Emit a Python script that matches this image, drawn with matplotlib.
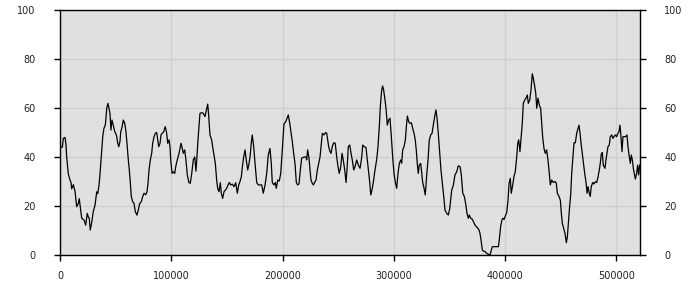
import matplotlib
matplotlib.use("Agg")
import matplotlib.pyplot as plt
import numpy as np

# positions in thousands
pos_a = [0, 2.1, 3.0, 4.5, 5.4, 6.0, 7.5, 9.0, 9.9, 10.5,
         12.0, 13.5, 15.0, 16.4, 17.3, 18.6, 19.5, 21.6, 23.1, 24.5,
         25.4, 26.3, 27.2, 28.5, 29.9, 31.5, 33.0, 33.9, 35.1, 36.0,
         36.9, 37.7, 38.4, 39.5, 40.7, 41.3, 42.0, 43.1, 44.0, 44.9,
         45.8, 46.7, 47.9, 49.2, 50.1, 51.0, 51.9, 52.8, 53.9, 54.6,
         55.7, 56.9, 58.2, 59.3, 60.2, 61.4, 62.3, 63.2, 64.1, 65.3,
         66.5, 67.7, 69.2, 70.4, 71.6, 73.1, 74.3, 75.5, 77.0, 78.2,
         79.1, 80.0, 81.2, 82.4, 83.3, 84.5, 85.7, 86.9, 87.8, 88.7,
         89.9, 90.8, 91.9, 93.2, 94.6, 95.9, 96.8, 98.0, 98.9, 99.5,
         100.7, 101.8, 103.1, 104.3, 105.4, 107.0]
val_a = [44, 44, 47.6, 48, 45, 40, 33, 30.6, 29.6, 27,
         28.7, 26, 19.7, 21, 23, 18.4, 15, 14.3, 12.2, 17,
         15.6, 15, 10.2, 13.2, 17.7, 20.4, 25.8, 25, 28.6, 33.3,
         38.8, 43.5, 48.3, 51.7, 53, 55.8, 59.9, 61.9, 59.9, 57.8,
         51, 55.1, 53, 50.3, 49.6, 48.3, 45.6, 44.2, 46.3, 50.3,
         52, 55.1, 53.7, 50.3, 45.6, 38.8, 34.7, 29.6, 23.8, 21.8,
         21.1, 17.7, 16.3, 18.4, 21, 21.8, 23.8, 25.2, 24.6, 25.8,
         29.2, 34.7, 38.8, 41.5, 45.6, 48.3, 49.7, 50, 47, 44.2,
         45.6, 49, 49.7, 50.3, 52.4, 49.7, 45.6, 47, 44.2, 38.8,
         33.3, 34, 33.3, 36.7, 38.8, 41.5]

pos_b = [108.8, 109.9, 110.8, 112.1, 113.2, 114.4, 115.9, 117.1, 118.4, 119.8,
         121.1, 122.2, 122.9, 124.0, 124.9, 125.8, 127.4, 128.8, 130.3, 131.9,
         132.8, 133.7, 134.8, 136.3, 137.2, 138.4, 139.6, 140.8, 141.7, 142.9,
         144.1, 145.0, 146.2, 147.4, 148.6, 149.8, 151.0, 152.2, 153.4, 154.9,
         156.4, 157.9, 159.4, 160.6, 161.8, 163.0, 163.9, 165.1, 166.3, 167.4,
         168.7, 169.9, 170.8, 171.9, 172.8, 174.1, 175.3, 176.8, 178.2, 179.8,
         181.3, 182.7, 184.3, 185.8, 187.2, 188.7, 189.9, 190.8, 192.3, 193.5,
         194.4, 195.7, 197.1, 198.4, 199.5, 200.4, 201.3, 202.9, 204.0, 205.2,
         206.5, 207.6, 208.8, 210.0, 211.2, 212.4, 213.6, 214.8]
val_b = [45.6, 43.5, 41.5, 42.9, 38.8, 32.7, 29.5, 29.3, 33.3, 38.8,
         40, 34.2, 38.8, 46.9, 52.4, 57.8, 58.1, 57.8, 56.5, 59.9,
         61.6, 56.5, 49, 47, 44.2, 40.8, 37.4, 30.6, 27.2, 25.8,
         29.5, 25.2, 23.1, 25.8, 26.5, 27.2, 28.6, 29.6, 28.6, 28.9,
         27.9, 29.5, 25.2, 28.6, 30, 32, 36, 40, 42.9, 38.8,
         34.7, 37.4, 40, 45.6, 49, 44.2, 37.4, 29.6, 28.6, 28.6,
         28.6, 25.2, 28.6, 33.3, 40.8, 43.5, 37.4, 29.6, 28.6, 29.6,
         27.2, 30.6, 30.2, 33.3, 40.8, 46.9, 53.5, 54.4, 55.8, 57.2,
         53.7, 50.3, 46.3, 41.5, 37.4, 29.6, 28.6, 29]

pos_c = [216.0, 217.2, 219.3, 221.1, 221.7, 222.6, 223.8, 224.7, 225.6, 226.8,
         227.7, 228.9, 230.1, 231.3, 232.5, 233.7, 234.9, 235.8, 237.3, 238.8,
         239.7, 240.6, 241.5, 242.7, 243.6, 244.7, 246.0, 247.4, 248.7, 249.9,
         251.0, 252.3, 253.5, 254.6, 255.9, 257.1, 258.0, 259.1, 260.4, 261.6,
         262.7, 264.0, 265.1, 266.7, 268.1, 269.7, 271.2, 272.1, 273.5, 275.0,
         276.2, 277.5, 278.4, 279.3, 280.4, 281.6, 283.1, 284.6, 285.8, 287.0,
         287.9, 289.1, 290.0, 290.9, 292.1, 293.0, 294.2, 295.4, 296.6, 297.8,
         299.0, 300.2, 301.4, 302.6, 303.8, 305.0, 306.2, 307.1, 308.0, 309.2,
         310.4, 311.3, 312.2, 313.4, 314.6, 315.8, 317.0, 318.2, 319.3, 320.2,
         321.1, 322.0, 322.9, 324.2, 325.1, 326.0, 327.2, 328.3, 329.6, 330.8,
         331.9, 333.2, 334.4, 335.5, 337.0, 337.9, 338.9, 340.0, 341.3, 342.4,
         343.6, 344.9, 346.0, 347.6, 349.0, 350.3]
val_c = [34.7, 39.5, 40, 40, 38.8, 42.9, 39.5, 34.7, 30.6, 29.2,
         28.6, 29.6, 30.6, 34.7, 37.4, 40, 45.6, 49.7, 49, 50,
         49.7, 47, 44.2, 42.2, 41.5, 44.2, 45.8, 45.6, 40, 36,
         33.3, 36, 41.5, 38.8, 34.7, 29.6, 35, 44.2, 44.9, 41.5,
         38.8, 34.7, 36, 38.8, 36.7, 35.4, 40, 44.9, 44.2, 43.9,
         38.8, 33.3, 29.6, 24.5, 26.5, 29.6, 34.7, 38.8, 44.2, 52.4,
         60.5, 67.3, 69, 67.3, 63.3, 59.9, 53, 55.1, 55.8, 48.3,
         40, 33.3, 29.6, 27.2, 33.3, 37.4, 38.8, 37.4, 42.9, 44.2,
         46.9, 52.4, 56.7, 54.4, 53.7, 54, 51.7, 49.7, 46.9, 42.9,
         37.4, 33.3, 36.7, 37.4, 33.3, 29.6, 27.2, 24.5, 32.7, 38.8,
         46.9, 49, 49.7, 53, 57.1, 59.2, 55.8, 49.7, 41.5, 34.7,
         29.6, 23.9, 18.4, 17, 16.3, 19]

pos_d = [352.1, 353.5, 355.0, 356.6, 358.0, 359.6, 360.7, 362.0, 363.4, 364.6,
         365.8, 367.0, 367.9, 369.1, 370.6, 372.1, 373.6, 375.1, 376.6, 377.5,
         378.4, 379.6, 380.5, 382.0, 383.5, 385.0, 386.6, 387.4, 388.6, 390.4,
         392.5, 394.0, 394.8, 396.1, 397.3, 398.2, 399.1, 400.2, 401.5, 402.7,
         403.6, 404.7, 405.6, 406.9, 408.1, 409.2, 410.5, 411.4, 412.3, 413.4,
         414.3, 415.5, 416.4, 417.7, 418.8, 420.0, 420.9, 422.2, 423.3, 424.5,
         425.4, 426.7, 427.6, 428.5, 429.6, 430.8, 432.0, 432.9, 433.8, 435.0,
         436.2, 437.4, 438.6, 439.8, 440.7, 441.9, 443.4, 444.9, 446.1, 447.0,
         448.5, 449.7, 450.6, 451.5, 452.7, 453.9, 455.1, 456.0, 456.9, 457.8,
         459.1, 459.9, 460.8, 462.0, 463.2, 464.4, 465.6, 466.5, 467.4, 468.3,
         469.4, 470.4, 471.6, 472.8, 473.7, 474.6, 475.7, 476.6, 477.5, 478.8,
         479.9, 481.1, 482.4, 483.6, 484.7, 485.6, 486.5, 487.4, 488.3, 489.8,
         490.7, 491.6, 492.5, 493.7, 494.6, 495.9, 497.0, 497.9, 499.1, 500.3,
         501.5, 502.4, 503.3, 504.2, 505.1, 506.0, 507.2, 508.4, 509.6, 510.5,
         511.7, 512.6, 513.5, 514.4, 515.3, 516.2, 517.1, 518.3, 519.2, 520.1,
         521.0]
val_d = [26.6, 28.4, 32.7, 34, 36.4, 36, 32.7, 25.2, 23.9, 21,
         17, 15, 16.3, 15, 14.6, 13.1, 11.8, 11.2, 10.2, 8.8,
         6.1, 2, 1.6, 1.4, 0.7, 0.3, 0, 1.6, 3.4, 3.4,
         3.4, 3.4, 6.1, 11.8, 14.5, 15, 14.5, 15.9, 17.3, 22.4,
         29.2, 31.3, 25.2, 28.6, 32.2, 34, 40, 45.6, 47, 42.2,
         47, 53.7, 61.9, 63.3, 64, 65.3, 61.9, 63.3, 67.3, 74,
         72.2, 68.7, 66, 59.9, 64, 61.2, 59.9, 54.4, 48.3, 43.5,
         41.5, 42.9, 38.8, 33.3, 28.6, 30.6, 29.6, 30, 29.3, 25.2,
         23.9, 22.4, 17, 12.9, 10.9, 8.8, 5, 7.3, 12.9, 18.4,
         25.2, 33.3, 38.8, 45.8, 45.8, 49.7, 51.7, 53, 49.7, 45.6,
         41.5, 37.4, 33.3, 29.6, 25.2, 27.9, 25.2, 23.9, 27.9, 29.6,
         29, 29.9, 29.6, 31.9, 34.7, 37.4, 41.2, 41.8, 36.7, 35.4,
         38.8, 41.5, 44.2, 44.9, 48.3, 49, 47.6, 48.3, 49, 48.3,
         49.7, 50.3, 53, 48.3, 42.2, 48.3, 48.3, 48.3, 49, 44.2,
         40, 37.4, 40.8, 38.8, 35.4, 33.3, 31, 33.3, 36.7, 32.7,
         36.7]

x_ticks = [0, 100000, 200000, 300000, 400000, 500000]
y_ticks = [0, 20, 40, 60, 80, 100]

x = np.array(pos_a + pos_b + pos_c + pos_d) * 1000
y = np.array(val_a + val_b + val_c + val_d)

fig = plt.figure(figsize=(7, 3), dpi=100)
ax = fig.add_axes([60 / 700, 45 / 300, 580 / 700, 245 / 300])
ax.set_facecolor("#e0e0e0")
ax.plot(x, y, color="black", linewidth=0.9)

ax.set_xlim(0, 521300)
ax.set_ylim(0, 100)
ax.set_xticks(x_ticks)
ax.set_yticks(y_ticks)
ax.set_xticklabels([str(t) for t in x_ticks])
ax.grid(True, color="#cfcfcf", linewidth=1)
ax.set_axisbelow(True)

for s in ax.spines.values():
    s.set_color("black")
    s.set_linewidth(1)

ax.tick_params(axis="both", direction="out", length=4, width=1,
               labelsize=7, colors="black", labelcolor="#222222")
ax.tick_params(axis="x", pad=7.5)
ax.tick_params(axis="y", pad=13.5, right=True, labelright=True)

fig.savefig("out.png", dpi=100)
